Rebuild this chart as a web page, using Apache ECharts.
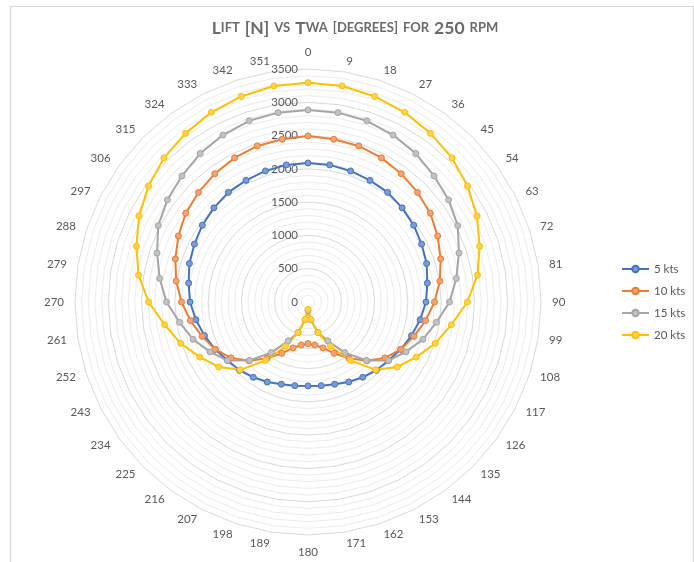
<!DOCTYPE html>
<html>
<head>
<meta charset="utf-8">
<script src="https://cdn.jsdelivr.net/npm/echarts@6/dist/echarts.min.js"></script>
<style>
  html, body { margin: 0; padding: 0; background: #fff; }
  #chart { width: 694px; height: 562px; }
</style>
</head>
<body>
<div id="chart"></div>
<script>
// True wind angle (degrees) for each radar spoke
const twaCategories = ['0', '9', '18', '27', '36', '45', '54', '63', '72', '81',
  '90', '99', '108', '117', '126', '135', '144', '153', '162', '171',
  '180', '189', '198', '207', '216', '225', '234', '243', '252', '261',
  '270', '279', '288', '297', '306', '315', '324', '333', '342', '351'];

// Lift [N] per wind speed, one value per TWA spoke
const lift5kts = [2088, 2085, 2070, 2050, 2035, 2000, 1962, 1915, 1873, 1815,
  1772, 1705, 1635, 1565, 1495, 1450, 1398, 1348, 1298, 1272,
  1260, 1272, 1298, 1348, 1398, 1450, 1495, 1565, 1635, 1705,
  1772, 1815, 1873, 1915, 1962, 2000, 2035, 2050, 2070, 2085];
const lift10kts = [2495, 2475, 2465, 2430, 2382, 2327, 2270, 2185, 2095, 2005,
  1900, 1788, 1672, 1567, 1428, 1250, 1046, 865, 725, 655,
  625, 655, 725, 865, 1046, 1250, 1428, 1567, 1672, 1788,
  1900, 2005, 2095, 2185, 2270, 2327, 2382, 2430, 2465, 2475];
const lift15kts = [2885, 2880, 2862, 2815, 2756, 2677, 2611, 2525, 2384, 2256,
  2125, 1953, 1815, 1650, 1495, 1242, 939, 655, 480, 270,
  130, 270, 480, 655, 939, 1242, 1495, 1650, 1815, 1953,
  2125, 2256, 2384, 2525, 2611, 2677, 2756, 2815, 2862, 2880];
const lift20kts = [3295, 3285, 3246, 3198, 3131, 3060, 2961, 2848, 2710, 2577,
  2394, 2181, 2011, 1824, 1659, 1441, 1088, 746, 485, 265,
  110, 265, 485, 746, 1088, 1441, 1659, 1824, 2011, 2181,
  2394, 2577, 2710, 2848, 2961, 3060, 3131, 3198, 3246, 3285];

const seriesNames = ['5 kts', '10 kts', '15 kts', '20 kts'];
const seriesData = [lift5kts, lift10kts, lift15kts, lift20kts];
const seriesColors = ['#4472C4', '#ED7D31', '#A5A5A5', '#FFC000'];
const markerFills = ['#7b9bd6', '#f2a273', '#c2c2c2', '#ffd24d'];

// Radial scale
const liftMin = 0;
const liftMax = 3500;
const liftStep = 100;      // minor ring spacing
const liftLabelStep = 500; // labelled ring spacing

const FONT = 'Lato, "Open Sans", sans-serif';
const TEXT_COLOR = '#595959';

// ECharts lays radar spokes out counter-clockwise; walk the angles in
// reverse (keeping 0 first) so they read clockwise like a compass.
const spokeOrder = twaCategories.map((_, i) => (i === 0 ? 0 : twaCategories.length - i));

const indicators = spokeOrder.map((idx, i) => {
  const ind = { name: twaCategories[idx], min: liftMin, max: liftMax };
  if (i === 0) {
    ind.axisLabel = {
      show: true,
      color: TEXT_COLOR,
      fontFamily: FONT,
      fontSize: 11.5,
      margin: 10,
      formatter: v => (v % liftLabelStep === 0 ? String(v) : '')
    };
  }
  return ind;
});

// Major rings every 500, lighter minor rings every 100
const ringsPerMajor = liftLabelStep / liftStep;
const ringColors = [];
for (let i = 0; i < ringsPerMajor; i++) ringColors.push(i === 0 ? '#d9d9d9' : '#ececec');

const markerStyle = i => ({ color: markerFills[i], borderColor: seriesColors[i], borderWidth: 1 });

// Empty line series only supply line-and-marker legend keys
const legendKeySeries = seriesNames.map((name, i) => ({
  type: 'line',
  name: name,
  data: [],
  symbol: 'circle',
  symbolSize: 6,
  lineStyle: { color: seriesColors[i], width: 2 },
  itemStyle: markerStyle(i)
}));

const chart = echarts.init(document.getElementById('chart'), null, { renderer: 'canvas' });

chart.setOption({
  animation: false,
  backgroundColor: '#ffffff',
  graphic: [{
    type: 'rect',
    left: 8, top: 4,
    shape: { width: 683, height: 600 },
    style: { fill: 'none', stroke: '#d9d9d9', lineWidth: 1.2 },
    silent: true
  }],
  title: {
    text: '{b|L}{s|IFT} {b|[N]} {s|VS} {b|T}{s|WA} {s|[DEGREES]} {s|FOR} {b|250} {s|RPM}',
    left: 350,
    top: 14,
    textAlign: 'center',
    textStyle: {
      rich: {
        b: { fontFamily: FONT, fontSize: 17.5, color: '#6b6b6b' },
        s: { fontFamily: FONT, fontSize: 13, color: '#6b6b6b' }
      }
    }
  },
  legend: {
    data: seriesNames,
    orient: 'vertical',
    left: 616,
    top: 258,
    itemWidth: 27,
    itemHeight: 8,
    itemGap: 10,
    textStyle: { color: TEXT_COLOR, fontFamily: FONT, fontSize: 11.5 },
    selectedMode: false
  },
  grid: { show: false, left: 0, top: 0, width: 1, height: 1 },
  xAxis: { show: false, type: 'value' },
  yAxis: { show: false, type: 'value' },
  radar: {
    center: [308, 302],
    radius: 233,
    startAngle: 90,
    shape: 'polygon',
    splitNumber: (liftMax - liftMin) / liftStep,
    indicator: indicators,
    nameGap: 11,
    axisName: { color: TEXT_COLOR, fontFamily: FONT, fontSize: 11.5 },
    axisLine: { show: false },
    axisTick: { show: false },
    axisLabel: { show: false },
    splitArea: { show: false },
    splitLine: { lineStyle: { color: ringColors, width: 1 } }
  },
  series: legendKeySeries.concat([{
    type: 'radar',
    data: seriesData.map((vals, i) => ({
      name: seriesNames[i],
      value: spokeOrder.map(idx => vals[idx]),
      symbol: 'circle',
      symbolSize: 6,
      lineStyle: { color: seriesColors[i], width: 2 },
      itemStyle: markerStyle(i)
    }))
  }])
});
</script>
</body>
</html>
